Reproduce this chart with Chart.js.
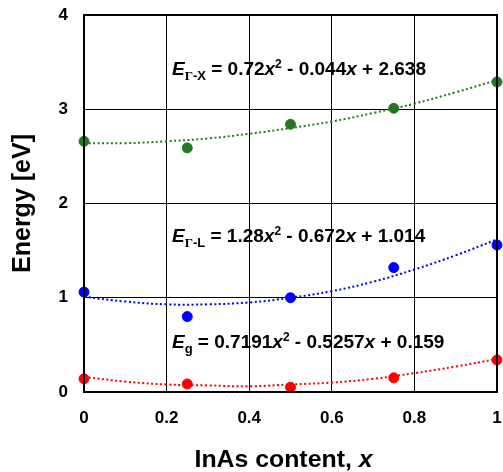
<!DOCTYPE html>
<html>
<head>
<meta charset="utf-8">
<script src="https://cdn.jsdelivr.net/npm/chart.js@4/dist/chart.umd.min.js"></script>
<style>
html,body{margin:0;padding:0;background:#fff;}
#wrap{width:503px;height:472px;position:relative;}
</style>
</head>
<body>
<div id="wrap"><canvas id="c" width="503" height="472"></canvas></div>
<script>
// ---- data ----
const xMeasured = [0, 0.25, 0.5, 0.75, 1];
const gammaX = [2.66, 2.59, 2.84, 3.01, 3.29];
const gammaL = [1.06, 0.80, 1.00, 1.32, 1.56];
const gap = [0.14, 0.085, 0.05, 0.15, 0.34];

const xTrend = [0, 0.1, 0.2, 0.3, 0.4, 0.5, 0.6, 0.7, 0.8, 0.9, 1];
const gammaXTrend = [2.64, 2.64, 2.66, 2.69, 2.74, 2.80, 2.87, 2.96, 3.06, 3.18, 3.31];
const gammaLTrend = [1.01, 0.96, 0.93, 0.93, 0.95, 1.00, 1.07, 1.17, 1.30, 1.45, 1.62];
const gapTrend = [0.16, 0.11, 0.08, 0.07, 0.06, 0.08, 0.10, 0.14, 0.20, 0.27, 0.35];

const xTicks = ['0', '0.2', '0.4', '0.6', '0.8', '1'];
const yTicks = ['0', '1', '2', '3', '4'];

const xTitleRuns = [{t:'InAs content, '},{t:'x', it:true}];
const yTitle = 'Energy [eV]';

const GREEN = '#217a21', BLUE = '#0000ff', RED = '#ff0000';

function pts(xs, ys){ return xs.map((x,i)=>({x:x, y:ys[i]})); }

// equation labels: runs of text
const equations = [
  {x:0.213, y:3.36, runs:[
    {t:'E', it:true},{t:'Γ', sub:true, serif:true},{t:'-X', sub:true},
    {t:' = 0.72'},{t:'x', it:true},{t:'2', sup:true},{t:' - 0.044'},{t:'x', it:true},{t:' + 2.638'}]},
  {x:0.213, y:1.59, runs:[
    {t:'E', it:true},{t:'Γ', sub:true, serif:true},{t:'-L', sub:true},
    {t:' = 1.28'},{t:'x', it:true},{t:'2', sup:true},{t:' - 0.672'},{t:'x', it:true},{t:' + 1.014'}]},
  {x:0.213, y:0.47, runs:[
    {t:'E', it:true},{t:'g', sub:true},
    {t:' = 0.7191'},{t:'x', it:true},{t:'2', sup:true},{t:' - 0.5257'},{t:'x', it:true},{t:' + 0.159'}]}
];

const SANS = '"Liberation Sans", Arial, sans-serif';

function drawRuns(ctx, runs, px, py, base){
  runs.forEach(r=>{
    let size = base, dy = 0;
    if (r.sub){ size = Math.round(base*0.7); dy = 5; }
    if (r.sup){ size = Math.round(base*0.62); dy = -7; }
    const fam = r.serif ? '"Liberation Serif", serif' : SANS;
    ctx.font = (r.it ? 'italic ' : '') + 'bold ' + size + 'px ' + fam;
    ctx.fillText(r.t, px, py + dy);
    px += ctx.measureText(r.t).width;
  });
}
function runsWidth(ctx, runs, base){
  let w = 0;
  runs.forEach(r=>{
    ctx.font = (r.it ? 'italic ' : '') + 'bold ' + base + 'px ' + SANS;
    w += ctx.measureText(r.t).width;
  });
  return w;
}

const eqPlugin = {
  id:'eq',
  afterDatasetsDraw(chart){
    const ctx = chart.ctx;
    const xs = chart.scales.x, ys = chart.scales.y;
    ctx.save();
    ctx.fillStyle = '#000';
    ctx.textBaseline = 'alphabetic';
    ctx.textAlign = 'left';
    equations.forEach(eq=>{
      drawRuns(ctx, eq.runs, xs.getPixelForValue(eq.x), ys.getPixelForValue(eq.y), 19);
    });
    // x-axis title (with italic x), centred under the plot
    const a = chart.chartArea;
    const sx = 1.08;
    const w = runsWidth(ctx, xTitleRuns, 23) * sx;
    const cx = (a.left + a.right)/2 - 7;
    ctx.translate(cx - w/2, xs.bottom - 5);
    ctx.scale(sx, 1);
    drawRuns(ctx, xTitleRuns, 0, 0, 23);
    ctx.restore();
  }
};

const borderPlugin = {
  id:'border',
  afterDatasetsDraw(chart){
    const a = chart.chartArea, ctx = chart.ctx;
    ctx.save();
    ctx.strokeStyle = '#000';
    ctx.lineWidth = 2;
    ctx.strokeRect(a.left, a.top, a.right - a.left, a.bottom - a.top);
    ctx.restore();
  }
};

const trendDs = (data, color) => ({
  type:'line', data:data, borderColor:color, borderWidth:2, borderDash:[2,2.5],
  pointRadius:0, tension:0.4, fill:false, order:2, clip:false
});
const ptDs = (data, color) => ({
  type:'scatter', data:data, backgroundColor:color, borderColor:color,
  pointRadius:5, pointHoverRadius:5, order:1, clip:false
});

const tickFont = {family:SANS, size:17, weight:'bold'};
const titleFont = {family:SANS, size:25, weight:'bold'};

new Chart(document.getElementById('c'), {
  type:'scatter',
  data:{datasets:[
    trendDs(pts(xTrend, gammaXTrend), GREEN),
    trendDs(pts(xTrend, gammaLTrend), BLUE),
    trendDs(pts(xTrend, gapTrend), RED),
    ptDs(pts(xMeasured, gammaX), GREEN),
    ptDs(pts(xMeasured, gammaL), BLUE),
    ptDs(pts(xMeasured, gap), RED)
  ]},
  options:{
    responsive:false, animation:false,
    layout:{padding:{left:0, top:15, right:6, bottom:0}},
    plugins:{legend:{display:false}, tooltip:{enabled:false}},
    scales:{
      x:{type:'linear', min:0, max:1,
        afterFit(s){ s.height = 80; s.paddingLeft = 0; s.paddingRight = 0; },
        ticks:{stepSize:0.2, color:'#000', font:tickFont, padding:16,
          callback:(v,i)=>xTicks[i]},
        grid:{color:'#000', lineWidth:1, drawTicks:false},
        border:{display:false},
        title:{display:false}
      },
      y:{type:'linear', min:0, max:4,
        afterFit(s){ s.width = 84; s.paddingTop = 0; s.paddingBottom = 0; },
        ticks:{stepSize:1, color:'#000', font:tickFont, padding:16,
          callback:(v,i)=>yTicks[i]},
        grid:{color:'#000', lineWidth:1, drawTicks:false},
        border:{display:false},
        title:{display:true, text:yTitle, color:'#000', font:titleFont, padding:{top:8,bottom:0}}
      }
    }
  },
  plugins:[eqPlugin, borderPlugin]
});
</script>
</body>
</html>
